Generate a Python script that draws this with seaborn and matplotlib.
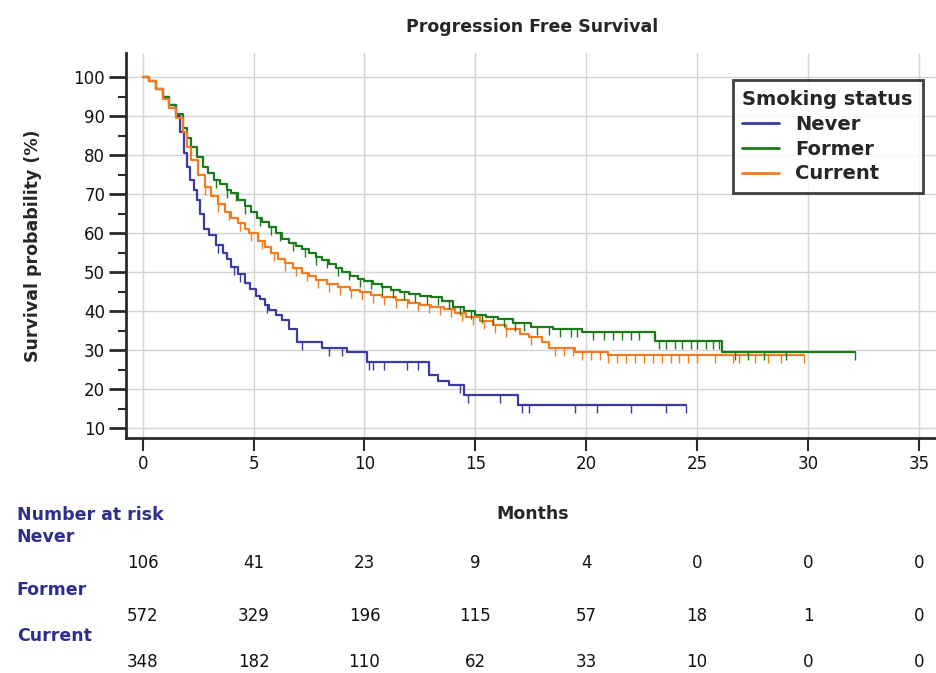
import numpy as np
import pandas as pd
import matplotlib
matplotlib.use("Agg")
import matplotlib.pyplot as plt
from matplotlib.path import Path
from matplotlib.lines import Line2D
from matplotlib.transforms import blended_transform_factory
import seaborn as sns

# ---------------- data ----------------
groups = ["Never", "Former", "Current"]
colors = {"Never": "#3b3ba3", "Former": "#1b7a1b", "Current": "#f47c20"}

never_t = [0, 0.3, 0.6, 0.9, 1.2, 1.5, 1.7, 1.85, 2.0, 2.15, 2.3, 2.45, 2.6, 2.75, 3.0, 3.3,
           3.6, 3.8, 4.0, 4.3, 4.6, 4.85, 5.1, 5.3, 5.5, 5.7, 6.0, 6.3, 6.6, 6.95, 8.1, 9.2,
           10.1, 12.9, 13.3, 13.8, 14.5, 16.9, 24.5]
never_s = [100, 99, 97, 95, 93, 90, 86, 80.5, 77, 73.6, 71, 68.5, 65, 61, 59.5, 57,
           55, 53.5, 51.4, 49.5, 47.3, 45.6, 44, 43, 41.5, 40.4, 39, 37.7, 35.5, 32, 30.5, 29.5,
           27, 23.5, 22, 21, 18.5, 15.8, 15.8]
never_c = [3.4, 4.1, 4.4, 5.6, 7.2, 8.4, 9.0, 10.2, 10.4, 10.9, 11.9, 12.4, 14.3, 14.65,
           16.1, 17.1, 17.4, 19.5, 20.5, 22.0, 23.6, 24.5]

former_t = [0, 0.3, 0.6, 0.9, 1.2, 1.5, 1.8, 2.0, 2.2, 2.45, 2.7, 2.95, 3.2, 3.5, 3.8, 4.0,
            4.3, 4.6, 4.9, 5.15, 5.4, 5.7, 6.0, 6.3, 6.6, 6.9, 7.2, 7.5, 7.8, 8.1, 8.4, 8.7,
            9.0, 9.35, 9.7, 10.0, 10.4, 10.8, 11.2, 11.6, 12.0, 12.5, 13.0, 13.5, 14.0, 14.5,
            15.0, 15.5, 16.0, 16.7, 17.5, 18.5, 19.8, 23.1, 26.1, 32.1]
former_s = [100, 99, 97, 95, 93, 90.5, 87, 84.5, 82, 79.5, 77, 75.5, 73.6, 72.5, 71, 70.3,
            68.5, 67, 65.5, 64, 62.8, 61.5, 60, 58.5, 57.6, 56.8, 56, 55, 54, 53, 52, 51,
            50, 49, 48.2, 47.6, 47, 46.3, 45.5, 45, 44.5, 44, 43.5, 42.5, 41, 40,
            39, 38.5, 38, 37, 36, 35.5, 34.6, 32.4, 29.6, 29.6]
former_c = [3.3, 3.8, 4.2, 4.6, 5.3, 5.8, 6.2, 6.8, 7.3, 7.8, 8.3, 8.8, 9.3, 9.8, 10.3, 10.8,
            11.3, 11.8, 12.3, 12.8, 13.3, 13.8, 14.3, 14.8, 15.3, 15.8, 16.3, 16.8, 17.2,
            17.8, 18.3, 18.8, 19.3, 19.6, 20.3, 20.8, 21.2, 21.6, 22.0, 22.4, 23.3, 23.6,
            24.0, 24.3, 24.7, 25.0, 25.4, 25.7, 26.0, 26.7, 27.3, 28.0, 29.0, 32.1]

current_t = [0, 0.3, 0.6, 0.9, 1.2, 1.5, 1.8, 2.0, 2.2, 2.5, 2.8, 3.1, 3.4, 3.7, 4.0, 4.3,
             4.6, 4.8, 5.2, 5.5, 5.8, 6.1, 6.4, 6.8, 7.2, 7.5, 7.8, 8.3, 8.8, 9.35, 9.8, 10.3,
             10.8, 11.4, 12.0, 12.5, 13.0, 13.6, 14.1, 14.6, 15.2, 15.8, 16.4, 17.0, 17.4,
             18.0, 18.3, 19.5, 21.0, 29.8]
current_s = [100, 99, 97, 94.5, 92, 89.5, 86, 82, 78.7, 75, 71.8, 69.5, 67.5, 65.5, 64, 62.5,
             61, 60, 58, 56.5, 55, 53.5, 52.3, 51, 49.8, 49, 48, 47, 46.2, 45.5, 44.8, 44.2,
             43.7, 42.8, 42, 41.5, 41, 40.5, 39.5, 38.5, 37.5, 36.5, 35.5, 34, 33.3,
             32, 30.5, 29.5, 28.8, 28.8]
current_c = [2.8, 3.4, 3.9, 4.4, 4.9, 5.4, 5.9, 6.4, 6.9, 7.4, 7.9, 8.4, 8.9, 9.4, 9.9, 10.4,
             10.9, 11.4, 11.9, 12.4, 12.9, 13.4, 13.9, 14.4, 14.9, 15.4, 15.9, 16.4, 17.5,
             18.6, 19.0, 19.4, 19.8, 20.2, 20.6, 21.0, 21.4, 21.8, 22.2, 22.6, 23.0, 23.4,
             23.8, 24.2, 24.6, 25.0, 25.8, 26.6, 26.9, 27.6, 28.2, 28.8, 29.8]

risk_times = [0, 5, 10, 15, 20, 25, 30, 35]
risk_never = [106, 41, 23, 9, 4, 0, 0, 0]
risk_former = [572, 329, 196, 115, 57, 18, 1, 0]
risk_current = [348, 182, 110, 62, 33, 10, 0, 0]

x_ticks = [0, 5, 10, 15, 20, 25, 30, 35]
y_ticks = [10, 20, 30, 40, 50, 60, 70, 80, 90, 100]

# ---------------- build ----------------
steps = {"Never": (never_t, never_s, never_c),
         "Former": (former_t, former_s, former_c),
         "Current": (current_t, current_s, current_c)}
rows = []
for g in groups:
    t, s, _ = steps[g]
    for ti, si in zip(t, s):
        rows.append({"t": ti, "s": si, "group": g})
df = pd.DataFrame(rows)

sns.set_theme(style="whitegrid")
plt.rcParams["font.family"] = ["DejaVu Sans"]

fig = plt.figure(figsize=(9.37, 6.73), dpi=100)
ax = fig.add_axes([0.1345, 0.349, 0.864, 0.572])

sns.lineplot(data=df, x="t", y="s", hue="group", palette=colors, hue_order=groups,
             estimator=None, sort=False, drawstyle="steps-post", linewidth=1.6,
             legend=False, ax=ax)

tick_marker = Path([(0, 0), (0, -1)], [Path.MOVETO, Path.LINETO])
for g in groups:
    t, s, c = steps[g]
    t_arr = np.array(t)
    s_arr = np.array(s)
    idx = np.searchsorted(t_arr, np.array(c), side="right") - 1
    ax.plot(c, s_arr[idx], linestyle="none", marker=tick_marker, markersize=11,
            markeredgewidth=1.0, color=colors[g])

ax.set_xlim(-0.75, 35.75)
ax.set_ylim(7.4, 106.2)
ax.set_xticks(x_ticks)
ax.set_yticks(y_ticks)
ax.set_yticks(np.arange(15, 100, 10), minor=True)
ax.set_facecolor("white")
ax.grid(True, which="major", color="#d4d4d4", linewidth=1.0)
ax.grid(False, which="minor")
for side in ["top", "right"]:
    ax.spines[side].set_visible(False)
for side in ["left", "bottom"]:
    ax.spines[side].set_color("#2a2a2a")
    ax.spines[side].set_linewidth(2.0)
ax.tick_params(axis="y", which="major", direction="out", length=12, width=2,
               color="#2a2a2a", labelsize=12, pad=3, left=True)
ax.tick_params(axis="y", which="minor", direction="out", length=6, width=1.5,
               color="#2a2a2a", left=True)
ax.tick_params(axis="x", which="major", direction="out", length=9, width=1.5,
               color="#2a2a2a", labelsize=12, pad=3, bottom=True)
for lab in ax.get_xticklabels() + ax.get_yticklabels():
    lab.set_color("#111111")

ax.set_xlabel("")
ax.set_ylabel("Survival probability (%)", fontsize=12.5, fontweight="bold")
ax.yaxis.set_label_coords(-0.104, 0.5)
fig.text(0.568, 0.96, "Progression Free Survival", fontsize=12.5, fontweight="bold",
         ha="center", va="center")
fig.text(0.569, 0.236, "Months", fontsize=12.5, fontweight="bold", ha="center", va="center")

handles = [Line2D([0], [0], color=colors[g], lw=2) for g in groups]
leg = ax.legend(handles, groups, title="Smoking status", loc="upper right",
                bbox_to_anchor=(0.984, 0.93), borderaxespad=0.0, frameon=True,
                fancybox=False, fontsize=14, title_fontsize=14, handlelength=1.9,
                handletextpad=0.8, borderpad=0.5, labelspacing=0.3, alignment="left")
leg.get_frame().set_edgecolor("#111111")
leg.get_frame().set_linewidth(2.0)
leg.get_title().set_fontweight("bold")
for txt in leg.get_texts():
    txt.set_fontweight("bold")

# ---------------- risk table ----------------
navy = "#2e2e8c"
fig.text(0.018, 0.235, "Number at risk", fontsize=12.5, fontweight="bold", color=navy,
         ha="left", va="center")
trans = blended_transform_factory(ax.transData, fig.transFigure)
label_y = {"Never": 0.202, "Former": 0.123, "Current": 0.055}
row_y = {"Never": 0.163, "Former": 0.085, "Current": 0.016}
risk = {"Never": risk_never, "Former": risk_former, "Current": risk_current}
for g in groups:
    fig.text(0.018, label_y[g], g, fontsize=12.5, fontweight="bold", color=navy,
             ha="left", va="center")
    for tt, n in zip(risk_times, risk[g]):
        ax.text(tt, row_y[g], str(n), transform=trans, fontsize=12, color="#111111",
                ha="center", va="center", clip_on=False)

fig.savefig("out.png", dpi=100, facecolor="white")
